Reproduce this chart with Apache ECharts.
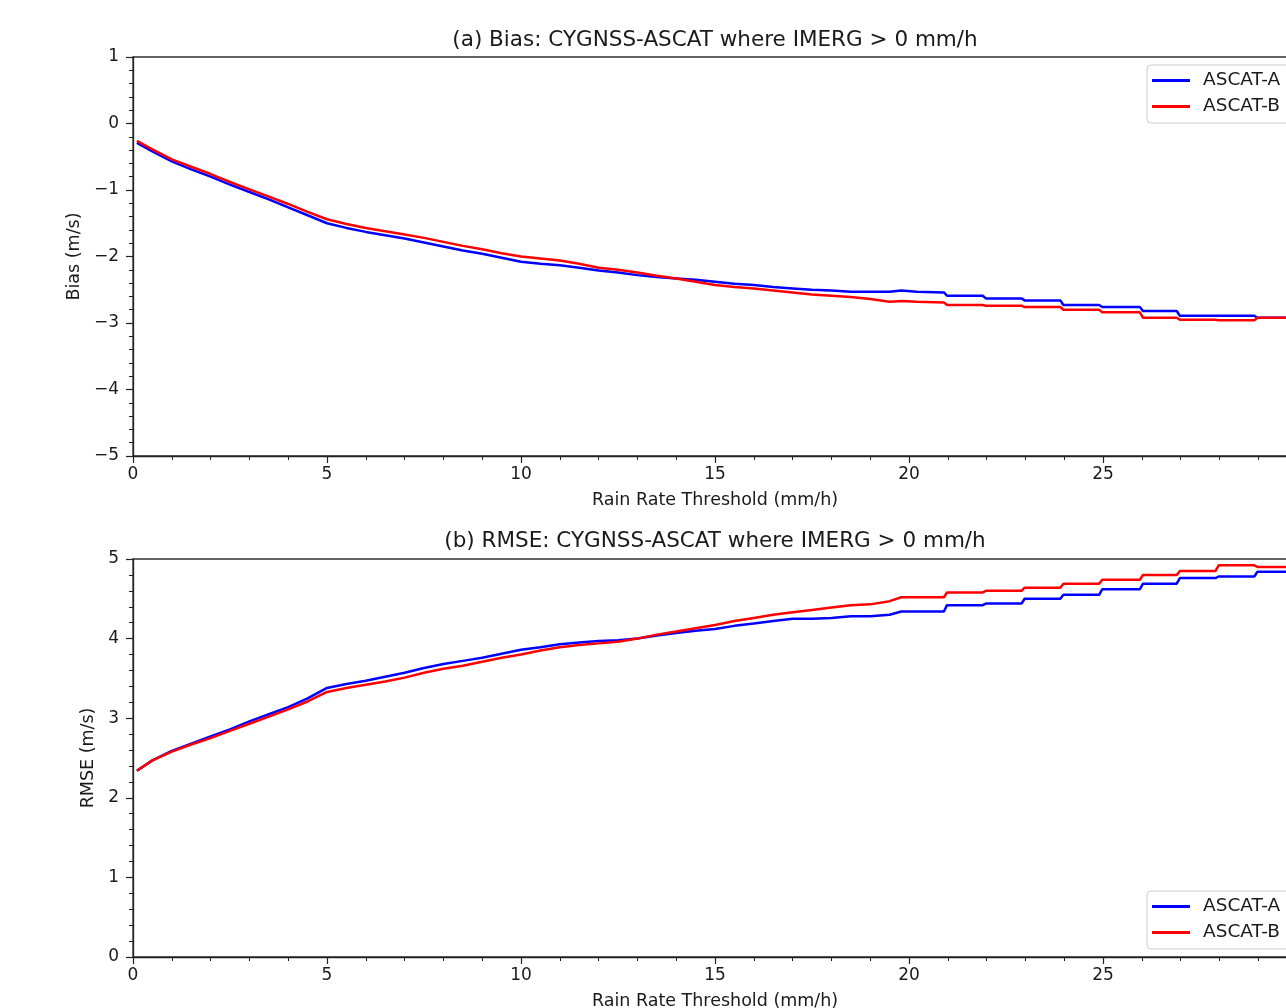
<!DOCTYPE html>
<html>
<head>
<meta charset="utf-8">
<script src="https://cdn.jsdelivr.net/npm/echarts@6/dist/echarts.min.js"></script>
<style>
html,body{margin:0;padding:0;background:#fff;}
#chart{width:1286px;height:1008px;}
</style>
</head>
<body>
<div id="chart"></div>
<script>
// Rain rate thresholds (mm/h)
var rate = [0.1,0.5,1,1.5,2,2.5,3,3.5,4,4.5,5,5.5,6,6.5,7,7.5,8,8.5,9,9.5,10,10.5,11,11.5,12,12.5,13,13.5,14,14.5,15,15.5,16,16.5,17,17.5,18,18.5,19,19.5,19.8,20.2,20.9,20.98,21.9,21.98,22.9,22.98,23.9,23.98,24.9,24.98,25.95,26.03,26.9,26.98,27.9,27.98,28.9,28.98,30];

// (a) Bias (m/s)
var biasA = [-0.29,-0.42,-0.57,-0.69,-0.80,-0.92,-1.03,-1.14,-1.26,-1.38,-1.50,-1.57,-1.63,-1.68,-1.73,-1.79,-1.85,-1.91,-1.96,-2.02,-2.08,-2.11,-2.13,-2.17,-2.21,-2.24,-2.28,-2.31,-2.33,-2.35,-2.38,-2.41,-2.43,-2.46,-2.48,-2.50,-2.51,-2.53,-2.53,-2.53,-2.51,-2.53,-2.54,-2.59,-2.59,-2.63,-2.63,-2.66,-2.66,-2.73,-2.73,-2.76,-2.76,-2.82,-2.82,-2.89,-2.89,-2.89,-2.89,-2.92,-2.92];
var biasB = [-0.26,-0.39,-0.54,-0.65,-0.76,-0.88,-0.99,-1.10,-1.21,-1.33,-1.44,-1.51,-1.57,-1.62,-1.67,-1.72,-1.78,-1.84,-1.89,-1.95,-2.00,-2.03,-2.06,-2.11,-2.17,-2.20,-2.24,-2.29,-2.33,-2.38,-2.43,-2.46,-2.48,-2.51,-2.54,-2.57,-2.59,-2.61,-2.64,-2.68,-2.67,-2.68,-2.69,-2.73,-2.73,-2.74,-2.74,-2.76,-2.76,-2.80,-2.80,-2.84,-2.84,-2.92,-2.92,-2.95,-2.95,-2.96,-2.96,-2.92,-2.92];

// (b) RMSE (m/s)
var rmseA = [2.34,2.47,2.59,2.68,2.77,2.86,2.96,3.05,3.14,3.25,3.38,3.43,3.47,3.52,3.57,3.63,3.68,3.72,3.76,3.81,3.86,3.89,3.93,3.95,3.97,3.98,4.00,4.04,4.07,4.10,4.12,4.16,4.19,4.22,4.25,4.25,4.26,4.28,4.28,4.30,4.34,4.34,4.34,4.42,4.42,4.44,4.44,4.50,4.50,4.55,4.55,4.62,4.62,4.69,4.69,4.76,4.76,4.78,4.78,4.84,4.84];
var rmseB = [2.34,2.47,2.58,2.67,2.75,2.84,2.93,3.02,3.11,3.21,3.33,3.38,3.42,3.46,3.51,3.57,3.62,3.66,3.71,3.76,3.80,3.85,3.89,3.92,3.94,3.96,4.00,4.05,4.09,4.13,4.17,4.22,4.26,4.30,4.33,4.36,4.39,4.42,4.43,4.47,4.52,4.52,4.52,4.58,4.58,4.60,4.60,4.64,4.64,4.69,4.69,4.74,4.74,4.80,4.80,4.85,4.85,4.92,4.92,4.90,4.90];

var seriesNames = ['ASCAT-A','ASCAT-B'];
var titles = ['(a) Bias: CYGNSS-ASCAT where IMERG > 0 mm/h','(b) RMSE: CYGNSS-ASCAT where IMERG > 0 mm/h'];
var xName = 'Rain Rate Threshold (mm/h)';
var yNames = ['Bias (m/s)','RMSE (m/s)'];

function pairs(xs, ys){ return xs.map(function(x,i){ return [x, ys[i]]; }); }
var FONT = 'DejaVu Sans';
var TXT = '#1a1a1a';

function xAxis(gi){
  return {
    type:'value', gridIndex:gi, min:0, max:30, interval:5,
    name:xName, nameLocation:'middle', nameGap:35,
    nameTextStyle:{fontFamily:FONT,fontSize:17.5,color:TXT},
    axisLine:{show:true,onZero:false,lineStyle:{color:'#222',width:1.3}},
    axisTick:{show:true,length:7,lineStyle:{color:'#222',width:1.2}},
    minorTick:{show:true,splitNumber:5,length:4,lineStyle:{color:'#222',width:1}},
    axisLabel:{fontFamily:FONT,fontSize:17,color:TXT,margin:10},
    splitLine:{show:false}
  };
}
function yAxis(gi,min,max,nameGap){
  return {
    type:'value', gridIndex:gi, min:min, max:max, interval:1,
    name:yNames[gi], nameLocation:'middle', nameGap:nameGap,
    nameTextStyle:{fontFamily:FONT,fontSize:17.5,color:TXT},
    axisLine:{show:true,onZero:false,lineStyle:{color:'#222',width:1.3}},
    axisTick:{show:true,length:7,lineStyle:{color:'#222',width:1.2}},
    minorTick:{show:true,splitNumber:5,length:4,lineStyle:{color:'#222',width:1}},
    axisLabel:{fontFamily:FONT,fontSize:17,color:TXT,margin:14,
      formatter:function(v){ return String(v).replace('-','\u2212'); }},
    splitLine:{show:false}
  };
}
function legend(top){
  return {
    orient:'vertical', left:1147, top:top,
    data:seriesNames,
    icon:'path://M0,0 L38,0 L38,3 L0,3 Z',
    itemWidth:38, itemHeight:3, itemGap:7,
    padding:[6,10,7,5],
    borderColor:'#cccccc', borderWidth:1, borderRadius:4,
    backgroundColor:'rgba(255,255,255,0.8)',
    textStyle:{fontFamily:FONT,fontSize:18.5,color:TXT,padding:[0,0,0,8]}
  };
}
function line(name, data, xi, color){
  return {
    type:'line', name:name, xAxisIndex:xi, yAxisIndex:xi, data:data,
    showSymbol:false, symbol:'none', smooth:false,
    lineStyle:{color:color,width:2.5}, itemStyle:{color:color},
    animation:false
  };
}
function grid(top, height){
  return {left:133, top:top, width:1164, height:height, containLabel:false,
    outerBoundsMode:'none',
    show:true, borderColor:'#333', borderWidth:1.3, backgroundColor:'transparent'};
}

var chart = echarts.init(document.getElementById('chart'), null, {renderer:'canvas'});
chart.setOption({
  backgroundColor:'#ffffff',
  animation:false,
  title:[
    {text:titles[0], left:710, textAlign:'center', top:24, textStyle:{fontFamily:FONT,fontSize:21.5,fontWeight:'normal',color:TXT}},
    {text:titles[1], left:710, textAlign:'center', top:525, textStyle:{fontFamily:FONT,fontSize:21.5,fontWeight:'normal',color:TXT}}
  ],
  grid:[grid(57,399), grid(559,398)],
  xAxis:[xAxis(0), xAxis(1)],
  yAxis:[yAxis(0,-5,1,48), yAxis(1,0,5,30)],
  legend:[legend(65), legend(891)],
  series:[
    line(seriesNames[0], pairs(rate, biasA), 0, '#0000ff'),
    line(seriesNames[1], pairs(rate, biasB), 0, '#ff0000'),
    line(seriesNames[0], pairs(rate, rmseA), 1, '#0000ff'),
    line(seriesNames[1], pairs(rate, rmseB), 1, '#ff0000')
  ]
});
</script>
</body>
</html>
